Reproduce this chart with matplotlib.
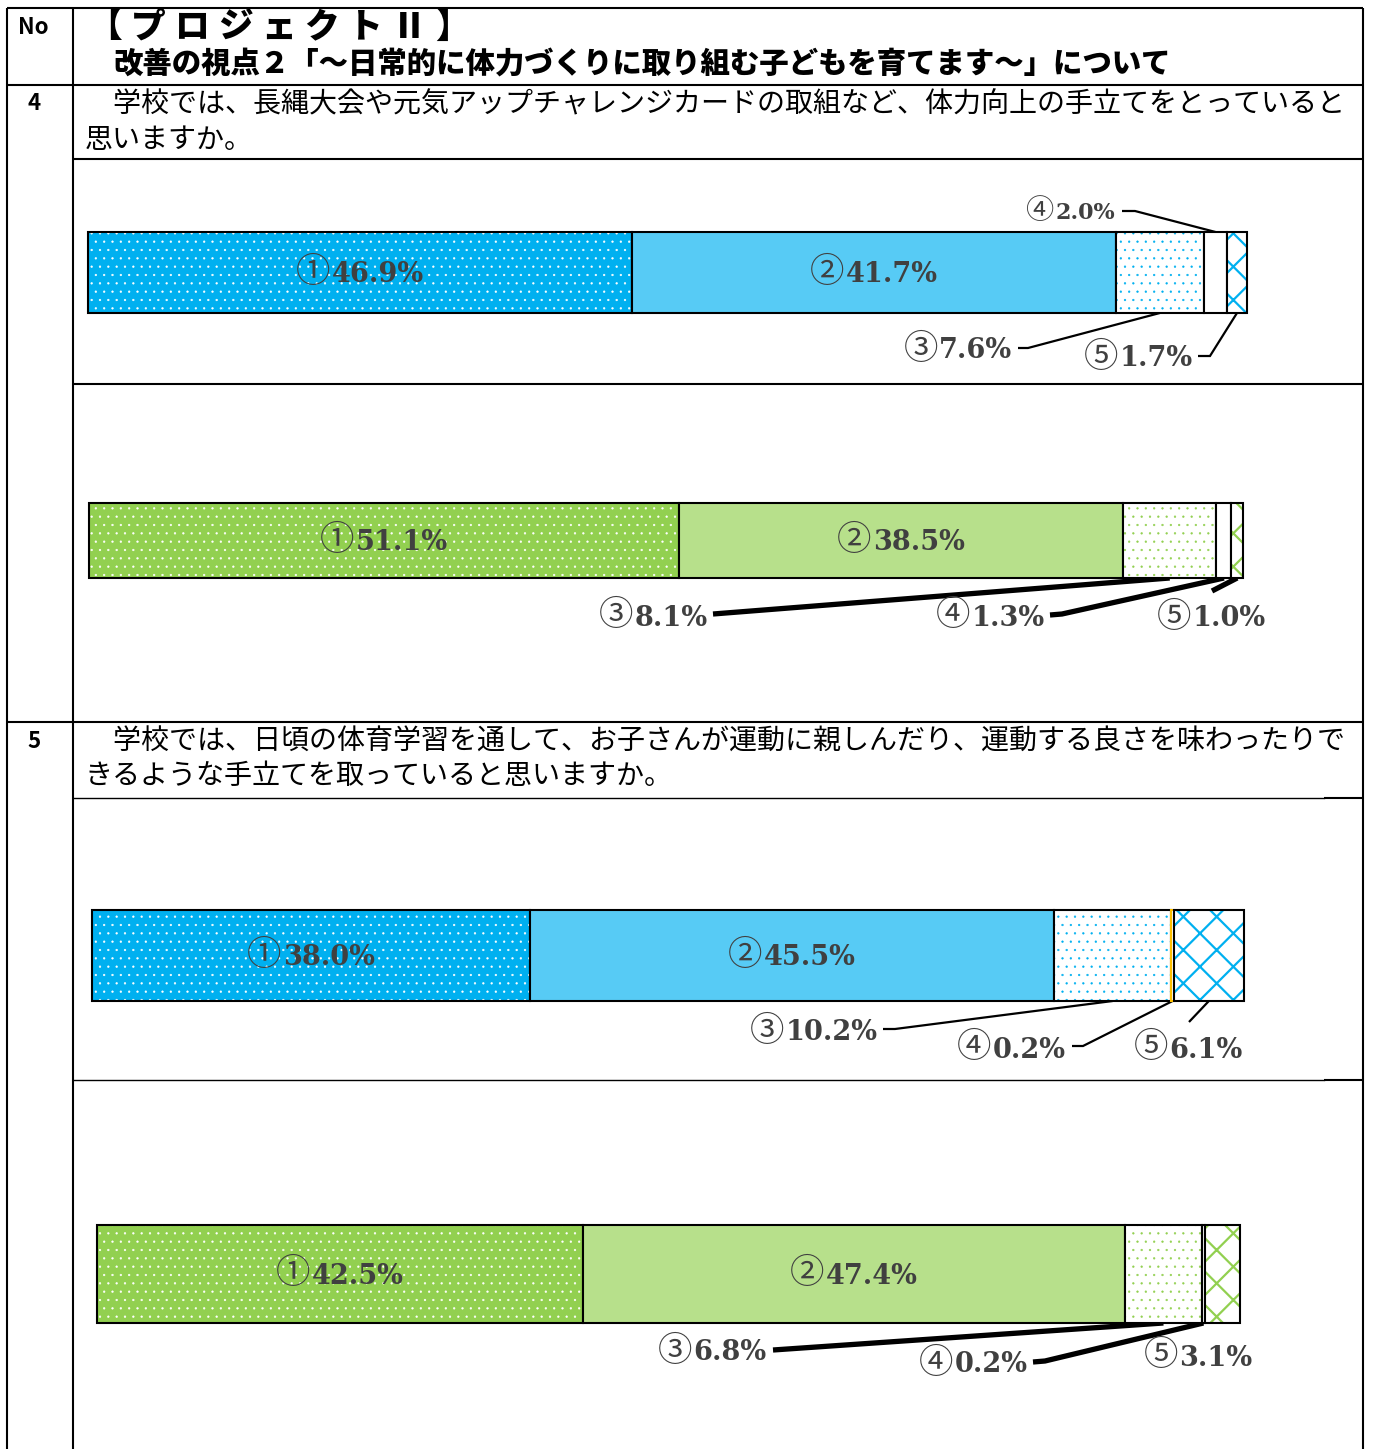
import matplotlib.pyplot as plt
from matplotlib.colors import to_rgb
from matplotlib.offsetbox import TextArea, HPacker, AnnotationBbox

W, H = 1375, 1449

# ---- data ----
marks = ['①', '②', '③', '④', '⑤']
q4_blue = [46.9, 41.7, 7.6, 2.0, 1.7]
q4_green = [51.1, 38.5, 8.1, 1.3, 1.0]
q5_blue = [38.0, 45.5, 10.2, 0.2, 6.1]
q5_green = [42.5, 47.4, 6.8, 0.2, 3.1]

header1 = '【プロジェクトⅡ】'
header2 = '改善の視点２「～日常的に体力づくりに取り組む子どもを育てます～」について'
q4_text = ['　学校では、長縄大会や元気アップチャレンジカードの取組など、体力向上の手立てをとっていると',
           '思いますか。']
q5_text = ['　学校では、日頃の体育学習を通して、お子さんが運動に親しんだり、運動する良さを味わったりで',
           'きるような手立てを取っていると思いますか。']

BLUE = '#00B0F0'
GREEN = '#92D050'
LBL = '#404040'
JP = ['Noto Sans CJK JP', 'DejaVu Sans']
NUM = ['DejaVu Serif', 'Noto Sans CJK JP']


def blend(c, a):
    r, g, b = to_rgb(c)
    return (r * a + 1 - a, g * a + 1 - a, b * a + 1 - a)


def label(axes, x, y, mark, value, fs):
    # circled number from the CJK font, value in a serif face
    parts = [TextArea(mark, textprops=dict(fontsize=fs * 1.27, color=LBL, family=JP)),
             TextArea(f'{value:.1f}%', textprops=dict(fontsize=fs, color=LBL, family=NUM,
                                                      fontweight='bold'))]
    box = HPacker(children=parts, align='baseline', pad=0, sep=1)
    ab = AnnotationBbox(box, (x, y), xycoords='data', frameon=False, pad=0,
                        box_alignment=(0.5, 0.5), annotation_clip=False)
    axes.add_artist(ab)


# outside labels: (segment, text x center, text y, fontsize, leader points before the bar, top/bottom)
charts = [
    dict(vals=q4_blue, color=BLUE, box=(88, 232, 1248, 313), lead_lw=1.6,
         out=[(2, 958, 349, 19.5, [(1018, 348), (1028, 348)], 'bottom'),
              (3, 1070, 211, 16, [(1122, 211), (1135, 211)], 'top'),
              (4, 1138, 357, 19.5, [(1198, 356), (1210, 356)], 'bottom')]),
    dict(vals=q4_green, color=GREEN, box=(89, 503, 1243, 578), lead_lw=3.8,
         out=[(2, 653, 616, 19.5, [(713, 614)], 'bottom'),
              (3, 990, 616, 19.5, [(1050, 615), (1062, 614)], 'bottom'),
              (4, 1211, 617, 19.5, [(1212, 591)], 'bottom')]),
    dict(vals=q5_blue, color=BLUE, box=(92, 910, 1244, 1001), lead_lw=1.6,
         out=[(2, 814, 1031, 19.5, [(883, 1029), (895, 1029)], 'bottom'),
              (3, 1011, 1048, 19.5, [(1072, 1046), (1083, 1046)], 'bottom'),
              (4, 1188, 1048, 19.5, [(1189, 1022)], 'bottom')]),
    dict(vals=q5_green, color=GREEN, box=(97, 1225, 1240, 1323), lead_lw=3.8,
         out=[(2, 712, 1351, 19.5, [(773, 1350)], 'bottom'),
              (3, 973, 1363, 19.5, [(1033, 1362), (1045, 1361)], 'bottom'),
              (4, 1198, 1356, 19.5, [], 'bottom')]),
]

plt.rcParams['hatch.linewidth'] = 0.4

fig = plt.figure(figsize=(W / 100, H / 100), dpi=100)
ax = fig.add_axes([0, 0, 1, 1])
ax.set_xlim(0, W)
ax.set_ylim(H, 0)
ax.axis('off')

# table frame
k = dict(color='black', lw=1.5, solid_capstyle='butt')
ax.plot([7, 7], [8, H], **k)
ax.plot([1363, 1363], [8, H], **k)
ax.plot([73, 73], [8, H], **k)
ax.plot([7, 1363], [8, 8], **k)
ax.plot([7, 1363], [85, 85], **k)
ax.plot([73, 1363], [159, 159], **k)
ax.plot([73, 1363], [384, 384], **k)
ax.plot([7, 1363], [722, 722], **k)
for yy in (798, 1080):
    ax.plot([73, 1324], [yy, yy], color='black', lw=1.0)
    ax.plot([1324, 1363], [yy, yy], **k)

# header texts
ax.text(33, 27, 'No', fontsize=16, fontweight='bold', family=JP, ha='center', va='center')
for i, chr_ in enumerate(header1):
    ax.text(105 + 43.4 * i, 27, chr_, fontsize=25, fontweight='heavy', family=JP,
            ha='center', va='center')
ax.text(113, 65, header2, fontsize=21.2, fontweight='heavy', family=JP, ha='left', va='center')
ax.text(34, 104, '4', fontsize=16, fontweight='bold', family=JP, ha='center', va='center')
ax.text(85, 104, q4_text[0], fontsize=20.2, family=JP, ha='left', va='center')
ax.text(85, 140, q4_text[1], fontsize=20.2, family=JP, ha='left', va='center')
ax.text(34, 742, '5', fontsize=16, fontweight='bold', family=JP, ha='center', va='center')
ax.text(85, 742, q5_text[0], fontsize=20.2, family=JP, ha='left', va='center')
ax.text(85, 776, q5_text[1], fontsize=20.2, family=JP, ha='left', va='center')

for ci, ch in enumerate(charts):
    x0, y0, x1, y1 = ch['box']
    bax = fig.add_axes([x0 / W, 1 - y1 / H, (x1 - x0) / W, (y1 - y0) / H])
    bax.set_xlim(0, 100)
    bax.set_ylim(-0.5, 0.5)
    bax.axis('off')
    c = ch['color']
    vals = ch['vals']
    faces = [c, blend(c, 0.66), 'white', 'white', 'white']
    hatches = ['..', None, '..', None, 'x']
    hcols = ['white', None, c, None, c]
    hlw = [0.4, 0, 0.4, 0, 1.6]
    left = 0
    lefts = []
    for i, v in enumerate(vals):
        lefts.append(left)
        bax.barh(0, v, left=left, height=1, color=faces[i], linewidth=0, clip_on=False)
        if hatches[i]:
            bars = bax.barh(0, v, left=left, height=1, facecolor='none', edgecolor=hcols[i],
                            hatch=hatches[i], linewidth=0, clip_on=False)
            for p in bars:
                if hasattr(p, 'set_hatch_linewidth'):
                    p.set_hatch_linewidth(hlw[i])
        ec = '#FFC000' if (ci == 2 and i == 3) else 'black'
        bax.barh(0, v, left=left, height=1, facecolor='none', edgecolor=ec,
                 linewidth=1.5, clip_on=False)
        left += v

    # labels inside the two big segments
    for i in (0, 1):
        label(bax, lefts[i] + vals[i] / 2, 0, marks[i], vals[i], 19.5)

    # outside labels with leader lines
    to_main = ax.transData.inverted()
    for seg, tx, ty, fs, pts, side in ch['out']:
        label(ax, tx, ty, marks[seg], vals[seg], fs)
        if not pts:
            continue
        yb = 0.5 if side == 'top' else -0.5
        end = to_main.transform(bax.transData.transform((lefts[seg] + vals[seg] / 2, yb)))
        xs = [p[0] for p in pts] + [end[0]]
        ys = [p[1] for p in pts] + [end[1]]
        ax.plot(xs, ys, color='black', lw=ch['lead_lw'], solid_capstyle='butt',
                solid_joinstyle='miter')

fig.savefig('out.png', dpi=100)
